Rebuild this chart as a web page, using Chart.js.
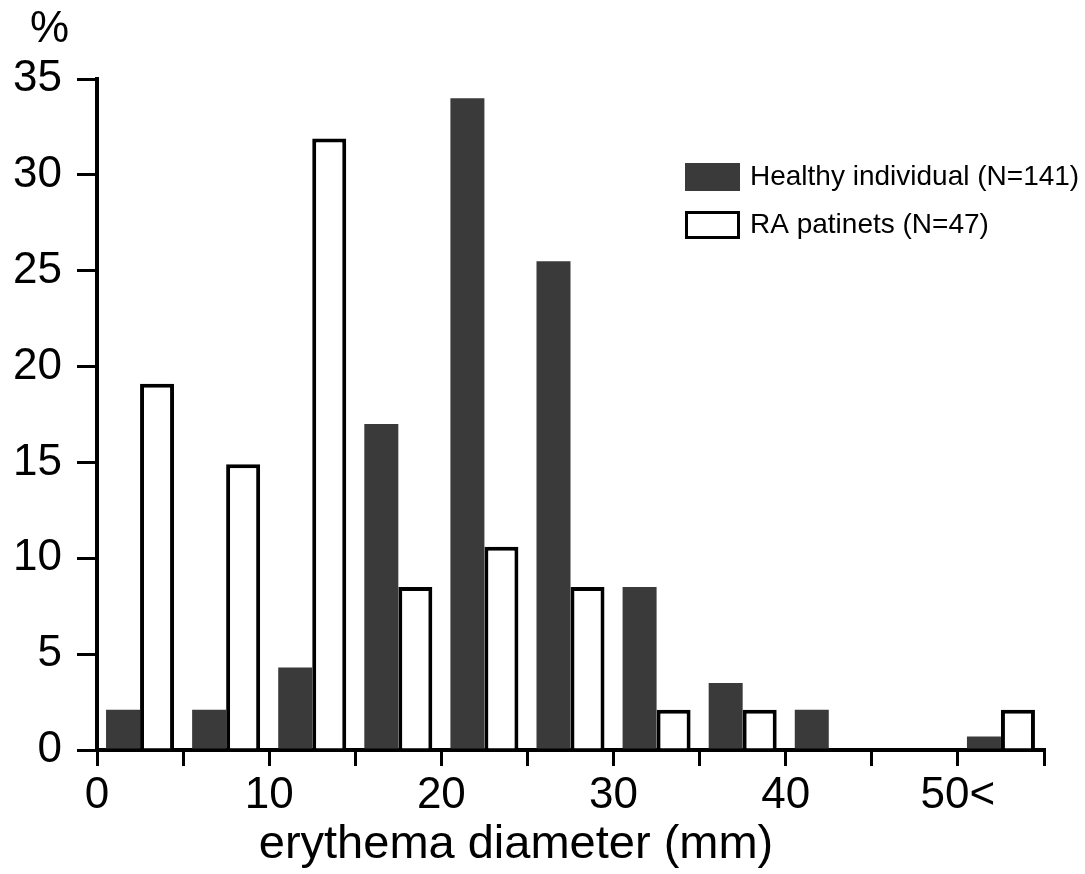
<!DOCTYPE html>
<html>
<head>
<meta charset="utf-8">
<script src="https://cdn.jsdelivr.net/npm/chart.js@4/dist/chart.umd.min.js"></script>
<style>
  html, body { margin: 0; padding: 0; background: #fff; }
  #wrap { width: 1085px; height: 874px; }
</style>
</head>
<body>
<div id="wrap"><canvas id="erythemaChart" width="1085" height="874"></canvas></div>
<script>
// bins of 5 mm, last one is "50<"
const bins = ['0-5', '5-10', '10-15', '15-20', '20-25', '25-30', '30-35', '35-40', '40-45', '45-50', '50<'];
const healthy = [2.1, 2.1, 4.3, 17.0, 34.0, 25.5, 8.5, 3.5, 2.1, 0, 0.7];
const raPatients = [19.1, 14.9, 31.9, 8.5, 10.6, 8.5, 2.1, 2.1, 0, 0, 2.1];
const seriesLabels = ['Healthy individual (N=141)', 'RA patinets (N=47)'];
const xTickLabels = ['0', '10', '20', '30', '40', '50<'];
const yTicks = [0, 5, 10, 15, 20, 25, 30, 35];
const xTitle = 'erythema diameter (mm)';
const yUnit = '%';

const FONT = "'Liberation Sans', Arial, sans-serif";

// legend, unit label and axis title drawn on top
const extras = {
  id: 'extras',
  afterDraw(chart) {
    const ctx = chart.ctx;
    const area = chart.chartArea;
    ctx.save();
    ctx.fillStyle = '#000';
    ctx.textBaseline = 'alphabetic';
    ctx.textAlign = 'left';
    ctx.font = '44px ' + FONT;
    ctx.fillText(yUnit, area.left - 67, 42);

    ctx.textAlign = 'center';
    ctx.font = '47px ' + FONT;
    ctx.fillText(xTitle, 516, 858);

    // legend
    ctx.textAlign = 'left';
    ctx.textBaseline = 'middle';
    ctx.font = '28px ' + FONT;
    chart.data.datasets.forEach((ds, i) => {
      const y = 163 + i * 48;
      ctx.fillStyle = ds.backgroundColor;
      ctx.fillRect(685, y, 55, 28);
      if (ds.borderWidth) {
        ctx.lineWidth = 3;
        ctx.strokeStyle = ds.borderColor;
        ctx.strokeRect(686.5, y + 1.5, 52, 25);
      }
      ctx.fillStyle = '#000';
      ctx.fillText(ds.label, 750, y + 14);
    });
    ctx.restore();
  }
};

new Chart(document.getElementById('erythemaChart').getContext('2d'), {
  type: 'bar',
  data: {
    labels: bins,
    datasets: [
      { label: seriesLabels[0], data: healthy, backgroundColor: '#3a3a3a', borderWidth: 0 },
      { label: seriesLabels[1], data: raPatients, backgroundColor: '#ffffff', borderColor: '#000', borderWidth: 4 }
    ]
  },
  options: {
    responsive: false,
    animation: false,
    layout: { padding: { top: 79, right: 41, left: 0, bottom: 0 } },
    datasets: { bar: { categoryPercentage: 0.79, barPercentage: 1 } },
    plugins: { legend: { display: false }, tooltip: { enabled: false } },
    scales: {
      x: { display: false },
      x2: {
        type: 'linear', position: 'bottom', min: 0, max: 55, offset: false,
        afterFit: (s) => { s.height = 124; },
        ticks: {
          stepSize: 5, autoSkip: false, maxRotation: 0, padding: 3,
          color: '#000', font: { family: FONT, size: 44 },
          callback: (v) => (v % 10 === 0 ? xTickLabels[v / 10] : '')
        },
        grid: { offset: false, drawOnChartArea: false, drawTicks: true, tickLength: 16, lineWidth: 3, color: '#000' },
        border: { display: true, width: 4, color: '#000' }
      },
      y: {
        min: 0, max: 35,
        afterFit: (s) => { s.width = 97; },
        afterBuildTicks: (s) => { s.ticks = yTicks.map(v => ({ value: v })); },
        ticks: { padding: 15, color: '#000', font: { family: FONT, size: 44 } },
        grid: { drawOnChartArea: false, drawTicks: true, tickLength: 20, lineWidth: 3, color: '#000' },
        border: { display: true, width: 4, color: '#000' }
      }
    }
  },
  plugins: [extras]
});
</script>
</body>
</html>
